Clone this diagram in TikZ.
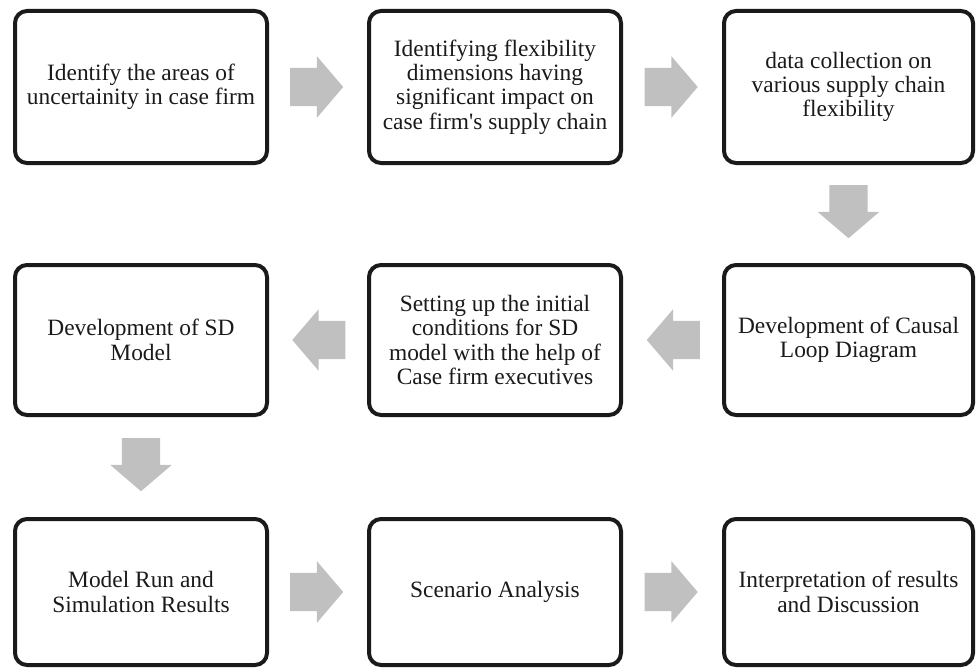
\documentclass[tikz,border=0pt]{standalone}
\usepackage{fontspec}
\setmainfont{Liberation Serif}[Ligatures=TeXOff]
\usetikzlibrary{shapes.arrows,calc}
\definecolor{arrowgray}{HTML}{BFC0BF}
\definecolor{ink}{HTML}{1A1A1A}
\begin{document}
\begin{tikzpicture}[x=1pt,y=-1pt,
  box/.style={draw=ink, line width=4pt, rounded corners=12pt, minimum width=252pt,
    inner sep=0pt, align=center, text=ink, font=\fontsize{23.4}{24.3}\selectfont},
  blockarrow/.style={single arrow, fill=arrowgray, draw=none, minimum height=53pt,
    inner xsep=0pt, inner ysep=19pt, single arrow head extend=11.5pt,
    single arrow tip angle=99, outer sep=0pt}]
\useasboundingbox (0,0) rectangle (977,669);
% row 1
\node[box, minimum height=152pt] (b1) at (141,87) {Identify the areas of\\uncertainity in case firm};
\node[box, minimum height=152pt] (b2) at (495,87) {Identifying flexibility\\dimensions having\\significant impact on\\case firm's supply chain};
\node[box, minimum height=152pt, minimum width=249pt] (b3) at (848.5,87) {data collection on\\various supply chain\\flexibility};
% row 2
\node[box, minimum height=150pt] (b4) at (141,340) {Development of SD\\Model};
\node[box, minimum height=150pt] (b5) at (495,340) {Setting up the initial\\conditions for SD\\model with the help of\\Case firm executives};
\node[box, minimum height=150pt, minimum width=249pt] (b6) at (848.5,340) {Development of Causal\\Loop Diagram};
% row 3
\node[box, minimum height=146pt] (b7) at (141,592) {Model Run and\\Simulation Results};
\node[box, minimum height=146pt] (b8) at (495,592) {Scenario Analysis};
\node[box, minimum height=146pt, minimum width=249pt] (b9) at (848.5,592) {Interpretation of results\\and Discussion};
% block arrows
\node[blockarrow] (a12) at ($(b1.east)!0.5!(b2.west)+(-9.5,0)$) {};
\node[blockarrow] (a23) at ($(b2.east)!0.5!(b3.west)+(-9.5,0)$) {};
\node[blockarrow, rotate=-90] (a36) at ($(b3.south)!0.5!(b6.north)+(0,-10.5)$) {};
\node[blockarrow, rotate=180] (a65) at ($(b6.west)!0.5!(b5.east)+(9,0)$) {};
\node[blockarrow, rotate=180] (a54) at ($(b5.west)!0.5!(b4.east)+(9,0)$) {};
\node[blockarrow, rotate=-90] (a47) at ($(b4.south)!0.5!(b7.north)+(0,-10.5)$) {};
\node[blockarrow] (a78) at ($(b7.east)!0.5!(b8.west)+(-9.5,0)$) {};
\node[blockarrow] (a89) at ($(b8.east)!0.5!(b9.west)+(-9.5,0)$) {};
\end{tikzpicture}
\end{document}
